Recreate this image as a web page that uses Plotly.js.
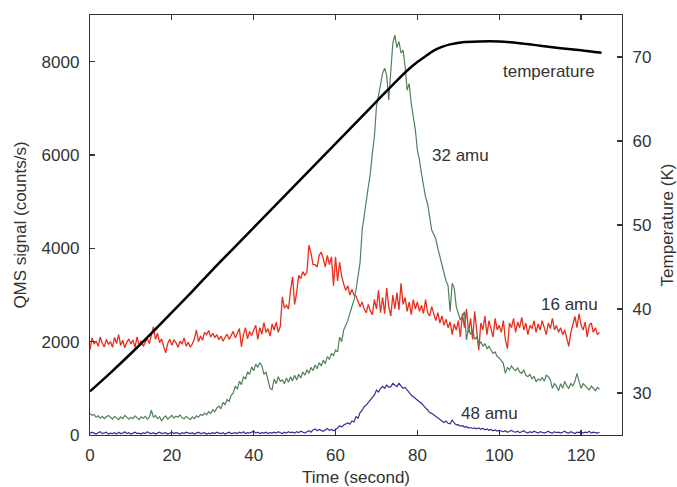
<!DOCTYPE html>
<html>
<head>
<meta charset="utf-8">
<script src="https://cdn.plot.ly/plotly-3.0.1.min.js"></script>
<style>html,body{margin:0;padding:0;background:#fff}#chart{width:677px;height:487px}</style>
</head>
<body>
<div id="chart"></div>
<script>
// sampling of the QMS signals: start time and step (s)
const t0 = 0, dt = 0.5;

// 16 amu (counts/s), one value every 0.5 s from t = 0
const amu16 = [
1830,2080,1950,2010,1900,2100,1960,1890,2050,1940,
2000,1880,2090,1960,2150,1920,2030,1870,1990,2060,
1950,2040,1880,2100,1930,2020,1900,1980,2070,1960,
2150,2320,2050,2180,1980,2060,1900,1760,1960,2050,
1920,2040,1980,1880,2010,1950,2080,1900,1990,1880,
1950,2060,2250,2000,2120,2030,2200,2150,2240,2100,
2180,2090,2150,2040,2120,2010,2090,2160,2050,2130,
2220,2080,2190,2280,1890,2150,2300,2060,2220,2130,
2250,2350,2050,2300,2160,2410,2200,2280,2120,2380,
2250,2420,2200,2330,2960,2720,2780,2700,3100,3390,
2800,3050,3420,3350,3500,3420,3480,4070,3900,3650,
3650,3600,3850,3920,3780,3600,3850,3650,3820,3200,
3820,3300,3700,3400,3230,3100,3200,3000,3120,3000,
2980,2880,2750,2850,2700,2620,2800,2660,2580,2900,
2700,3100,2620,2950,2600,3150,2750,2550,3000,2700,
3050,2680,3250,2800,2950,2650,2850,2580,2900,2700,
2850,2650,2780,2600,2900,2620,2550,2750,2600,2450,
2620,2400,2550,2350,2480,2300,2420,2150,2380,2250,
2450,2100,2600,2300,2700,2200,2500,2050,2650,2300,
1820,2400,2250,2550,2150,2450,2300,2100,2500,2250,
2350,2200,2450,2050,1850,2400,2300,2500,2200,2420,
2300,2520,2250,2400,2150,2350,2280,2450,2200,2380,
2250,2450,2300,2150,2400,2280,2500,2250,2350,2200,
2300,2150,2250,2050,1900,2200,2350,2540,2300,2600,
2350,2250,2420,2100,2350,2400,2200,2300,2150,2200
];

// 32 amu (counts/s)
const amu32 = [
460,420,440,380,410,360,400,350,390,420,
380,340,400,360,330,390,350,420,370,340,
380,350,410,370,330,390,360,400,340,380,
530,380,420,350,390,300,370,410,340,380,
420,360,400,380,430,370,350,400,360,330,
390,350,410,380,440,420,470,430,500,460,
540,500,580,620,560,700,650,760,720,850,
900,1050,980,1150,1080,1250,1200,1350,1300,1460,
1380,1520,1450,1550,1480,1300,1350,1150,1000,970,
1200,1100,1250,1150,1180,1100,1220,1130,1250,1160,
1280,1180,1300,1220,1350,1280,1400,1320,1450,1380,
1500,1420,1550,1480,1600,1530,1680,1620,1750,1700,
1820,1780,2100,2000,2250,2350,2450,2610,2750,2890,
3107,3400,3700,4390,4750,5000,5320,5600,6040,6400,
7035,7300,7500,7750,7860,7700,7180,7800,8400,8570,
8300,8430,8180,8250,7900,7390,7530,7100,6820,6540,
6110,5900,5600,5320,5100,4950,4650,4393,4300,4200,
4000,3820,3600,3420,3300,3200,2640,3250,3150,2750,
2600,2464,2550,2640,2036,2300,2150,2250,2050,2100,
1930,2000,1900,1960,1850,1900,1820,1750,1780,1680,
1650,1600,1536,1320,1450,1400,1480,1420,1380,1440,
1350,1320,1400,1280,1250,1300,1200,1260,1140,1200,
1170,1230,1150,1280,1250,1180,1000,1100,1050,950,
1100,1000,1150,1050,1000,1100,1050,1150,1320,1150,
1000,1100,1050,1000,964,1050,1000,950,1020,980
];

// 48 amu (counts/s)
const amu48 = [
30,60,40,20,50,70,30,40,60,20,
40,30,50,20,60,30,40,70,30,50,
20,40,60,30,40,20,50,30,70,40,
30,50,20,40,60,30,40,50,20,40,
60,30,50,40,20,50,30,60,40,30,
50,20,40,60,30,40,50,20,40,30,
50,30,60,40,30,50,20,40,60,30,
40,50,30,60,40,70,30,50,40,60,
80,40,60,30,50,40,60,30,50,40,
60,40,70,50,30,60,40,70,50,60,
40,70,50,80,60,40,70,90,60,110,
130,90,120,100,80,110,140,100,120,90,
120,150,200,170,214,240,260,230,300,280,
393,360,480,530,607,640,700,750,800,860,
964,920,1000,1036,1000,1070,1020,1036,1107,1060,
1036,1107,1050,1000,1020,964,900,857,820,790,
750,714,680,640,580,536,480,464,430,393,
360,330,290,270,300,250,240,321,260,215,
220,190,200,170,179,150,160,140,150,130,
150,120,143,110,130,100,120,90,110,86,
100,86,70,90,60,80,100,70,60,80,
50,70,90,60,40,70,50,80,60,40,
70,50,40,60,80,50,40,70,50,60,
40,60,80,50,40,70,50,30,60,50,
70,40,60,50,80,40,60,50,40,60
];

// temperature (K)
const tempTime = [0,5,10,15,20,25,30,35,40,45,50,55,60,65,70,75,78,80,82,84,86,88,91,95,100,105,110,115,120,125];
const tempK = [30.2,32.4,34.7,37.1,39.6,42.1,44.7,47.2,49.7,52.2,54.7,57.2,59.7,62.2,64.7,67.2,68.6,69.4,70.1,70.75,71.2,71.5,71.75,71.85,71.85,71.65,71.35,71.05,70.8,70.5];

const xTicks = [0,20,40,60,80,100,120];
const yTicks = [0,2000,4000,6000,8000];
const y2Ticks = [30,40,50,60,70];

const labels = [
  {text:'temperature', x:124, y:7780, xanchor:'right'},
  {text:'32 amu', x:83.1, y:5980, xanchor:'left'},
  {text:'16 amu', x:124.7, y:2790, xanchor:'right'},
  {text:'48 amu', x:90.2, y:470, xanchor:'left'}
];

const time = amu16.map((_, i) => t0 + i * dt);

const font = {family:'"Liberation Sans", Arial, Helvetica, sans-serif', size:17, color:'#333'};

const traces = [
  {x:time, y:amu16, type:'scatter', mode:'lines', line:{color:'#ea2e1c', width:1.3}, hoverinfo:'skip'},
  {x:time, y:amu32, type:'scatter', mode:'lines', line:{color:'#52805a', width:1.2}, hoverinfo:'skip'},
  {x:time, y:amu48, type:'scatter', mode:'lines', line:{color:'#3a2b94', width:1.2}, hoverinfo:'skip'},
  {x:tempTime, y:tempK, type:'scatter', mode:'lines', yaxis:'y2', line:{color:'#000', width:2.5, shape:'spline', smoothing:0.8}, hoverinfo:'skip'}
];

const axisCommon = {
  showgrid:false, zeroline:false, showline:true, linecolor:'#333', linewidth:1.2,
  ticks:'inside', ticklen:5, tickwidth:1.2, tickcolor:'#333', tickfont:font
};

const layout = {
  width:677, height:487,
  margin:{l:90, r:55, t:15, b:52},
  paper_bgcolor:'#fff', plot_bgcolor:'#fff',
  showlegend:false,
  font:font,
  xaxis:Object.assign({}, axisCommon, {
    range:[0,130], tickvals:xTicks, mirror:'ticks',
    ticklabelstandoff:4,
    title:{text:'Time (second)', font:font, standoff:7}
  }),
  yaxis:Object.assign({}, axisCommon, {
    range:[0,9000], tickvals:yTicks,
    ticklabelstandoff:6,
    title:{text:'QMS signal (counts/s)', font:font, standoff:10}
  }),
  yaxis2:Object.assign({}, axisCommon, {
    range:[25,75], tickvals:y2Ticks, overlaying:'y', side:'right',
    ticklabelstandoff:6,
    title:{text:'Temperature (K)', font:font, standoff:10}
  }),
  annotations: labels.map(l => ({
    text:l.text, x:l.x, y:l.y, xref:'x', yref:'y', xanchor:l.xanchor, yanchor:'middle',
    showarrow:false, font:font
  }))
};

Plotly.newPlot('chart', traces, layout, {staticPlot:true, displayModeBar:false});
</script>
</body>
</html>
